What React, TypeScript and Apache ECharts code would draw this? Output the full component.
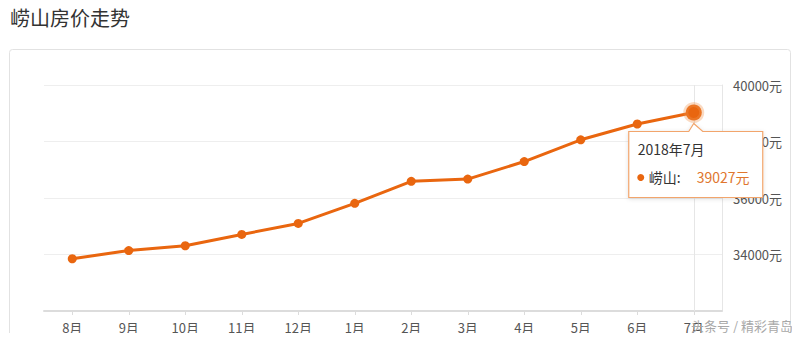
import React, { useEffect, useRef } from "react";
import * as echarts from "echarts";

const title = "崂山房价走势";
const categories = ["8月", "9月", "10月", "11月", "12月", "1月", "2月", "3月", "4月", "5月", "6月", "7月"];
const seriesName = "崂山";
const prices = [33850, 34140, 34310, 34710, 35100, 35810, 36590, 36670, 37290, 38060, 38620, 39027];
const tooltipTitle = "2018年7月";
const yTicks = { min: 32000, max: 40000, interval: 2000 };
const unit = "元";
const watermark = "头条号 / 精彩青岛";

const FONT = "'Noto Sans CJK SC', 'Noto Sans', sans-serif";
const ORANGE = "#e9660f";

export default function App() {
  const ref = useRef<HTMLDivElement>(null);
  useEffect(() => {
    if (!ref.current) return;
    const chart = echarts.init(ref.current, undefined, { renderer: "svg" });
    const lastIdx = prices.length - 1;
    const data = prices.map((v, i) =>
      i === lastIdx
        ? {
            value: v,
            symbolSize: 16,
            itemStyle: { color: ORANGE, borderColor: "rgba(240,150,80,0.35)", borderWidth: 5 },
          }
        : v
    );
    chart.setOption({
      animation: false,
      textStyle: { fontFamily: FONT },
      grid: { left: 44, right: 78, top: 85, bottom: 30 },
      xAxis: {
        type: "category",
        data: categories,
        boundaryGap: true,
        axisLine: { lineStyle: { color: "#dcdcdc", width: 2 } },
        axisTick: { show: true, alignWithLabel: true, length: 4, lineStyle: { color: "#dcdcdc" } },
        axisLabel: { color: "#555", fontSize: 13, margin: 10, fontFamily: FONT },
        splitLine: { show: false },
      },
      yAxis: {
        type: "value",
        position: "right",
        min: yTicks.min,
        max: yTicks.max,
        interval: yTicks.interval,
        axisLine: { show: true, lineStyle: { color: "#e6e6e6", width: 1 } },
        axisTick: { show: false },
        axisLabel: {
          showMinLabel: false,
          color: "#555",
          fontSize: 13,
          margin: 11,
          fontFamily: FONT,
          formatter: (v: number) => String(v) + unit,
        },
        splitLine: { lineStyle: { color: "#eeeeee", width: 1 } },
      },
      series: [
        {
          name: seriesName,
          type: "line",
          data,
          symbol: "circle",
          symbolSize: 9,
          lineStyle: { color: ORANGE, width: 3 },
          itemStyle: { color: ORANGE },
          markLine: {
            silent: true,
            symbol: "none",
            label: { show: false },
            lineStyle: { color: "#e6e6e6", type: "solid", width: 1 },
            data: [{ xAxis: categories[lastIdx] }],
            z: 1,
          },
        },
      ],
    });

    const [px, py] = chart.convertToPixel({ seriesIndex: 0 }, [lastIdx, prices[lastIdx]]) as number[];
    const bx = px - 65;
    const by = py + 19;
    const bw = 134;
    const bh = 66;
    chart.setOption({
      graphic: [
        {
          type: "text",
          left: 10,
          top: 7,
          style: { text: title, fontSize: 20, fill: "#333", fontFamily: FONT },
        },
        {
          type: "rect",
          shape: { x: 9.5, y: 49.5, width: 781, height: 320, r: 3 },
          style: { fill: "none", stroke: "#e2e2e2", lineWidth: 1 },
          silent: true,
          z: -1,
        },
        {
          type: "polygon",
          shape: {
            points: [
              [bx, by],
              [px - 5, by],
              [px, py + 11],
              [px + 9, by],
              [bx + bw, by],
              [bx + bw, by + bh],
              [bx, by + bh],
            ],
          },
          style: {
            fill: "#fff",
            stroke: "#f2a56c",
            lineWidth: 1.2,
            shadowBlur: 4,
            shadowColor: "rgba(0,0,0,0.12)",
            shadowOffsetY: 1,
          },
          z: 100,
        },
        {
          type: "text",
          x: bx + 9,
          y: by + 18,
          style: {
            text: tooltipTitle,
            fontSize: 14,
            fill: "#333",
            fontFamily: FONT,
            verticalAlign: "middle",
          },
          z: 101,
        },
        {
          type: "circle",
          shape: { cx: bx + 12, cy: by + 46, r: 3.5 },
          style: { fill: ORANGE },
          z: 101,
        },
        {
          type: "text",
          x: bx + 20,
          y: by + 46,
          style: {
            text: seriesName + ":",
            fontSize: 14,
            fill: "#333",
            fontFamily: FONT,
            verticalAlign: "middle",
          },
          z: 101,
        },
        {
          type: "text",
          x: bx + 68,
          y: by + 46,
          style: {
            text: prices[lastIdx] + unit,
            fontSize: 14,
            fill: "#e0762e",
            fontFamily: FONT,
            verticalAlign: "middle",
          },
          z: 101,
        },
        {
          type: "text",
          right: 7,
          top: 319,
          style: { text: watermark, fontSize: 13, fill: "#a8a8a8", fontFamily: FONT },
          z: 102,
        },
      ],
    });
    return () => chart.dispose();
  }, []);
  return <div ref={ref} style={{ width: 800, height: 341, margin: -8 }} />;
}
